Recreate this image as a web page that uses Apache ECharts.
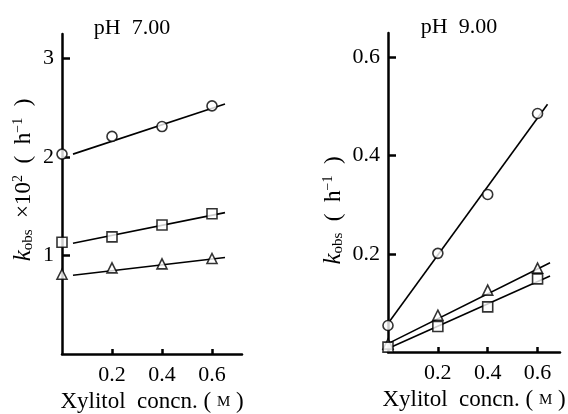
<!DOCTYPE html>
<html><head><meta charset="utf-8">
<script src="https://cdn.jsdelivr.net/npm/echarts@6/dist/echarts.min.js"></script>
<style>html,body{margin:0;padding:0;background:#fff}#c{width:568px;height:414px}</style>
</head><body><div id="c"></div><script>
// ---- data ----
const titles = ['pH  7.00', 'pH  9.00'];
const xTickValues = [0.2, 0.4, 0.6];
const yTicks7 = [1, 2, 3];
const yTicks9 = [0.2, 0.4, 0.6];
const xConc = [0, 0.2, 0.4, 0.6];
// pH 7.00 (k_obs x 10^2, h^-1)
const ph7Circle = [2.03, 2.21, 2.31, 2.52];
const ph7Square = [1.135, 1.19, 1.31, 1.425];
const ph7Triangle = [0.81, 0.875, 0.915, 0.97];
// fitted lines: [x, y] end points
const ph7CircleFitX = [0.044, 0.652], ph7CircleFitY = [2.03, 2.54];
const ph7SquareFitX = [0.044, 0.652], ph7SquareFitY = [1.125, 1.436];
const ph7TriangleFitX = [0.044, 0.652], ph7TriangleFitY = [0.80, 0.98];
// pH 9.00 (k_obs, h^-1)
const ph9Circle = [0.054, 0.201, 0.321, 0.486];
const ph9Triangle = [0.016, 0.075, 0.126, 0.171];
const ph9Square = [0.010, 0.052, 0.092, 0.149];
const ph9CircleFitX = [0.0, 0.64], ph9CircleFitY = [0.058, 0.505];
const ph9TriangleFitX = [0.0, 0.65], ph9TriangleFitY = [0.017, 0.182];
const ph9SquareFitX = [0.0, 0.65], ph9SquareFitY = [0.007, 0.155];

const FONT = '"Liberation Serif", "DejaVu Serif", serif';
function pairs(xs, ys) { return xs.map((x, i) => [x, ys[i]]); }

const chart = echarts.init(document.getElementById('c'), null, {renderer: 'canvas'});
const axisLine = {show: true, onZero: false, lineStyle: {color: '#000', width: 2.5}};
function xAxis(gridIndex, max) {
  return {
    type: 'value', gridIndex, min: 0, max,
    splitLine: {show: false},
    axisLine,
    axisTick: {show: true, inside: true, length: 5, lineStyle: {color: '#000', width: 2.5}, customValues: xTickValues},
    axisLabel: {color: '#000', fontFamily: FONT, fontSize: 22, margin: 10, customValues: xTickValues,
      formatter: v => v.toFixed(1)},
    name: 'Xylitol  concn. ( {sc|M} )',
    nameLocation: 'middle', nameGap: 36,
    nameTextStyle: {color: '#000', fontFamily: FONT, fontSize: 23,
      rich: {sc: {fontFamily: FONT, fontSize: 15, color: '#000'}}}
  };
}
const yRich = {
  k: {fontFamily: FONT, fontStyle: 'italic', fontSize: 25, color: '#000'},
  sub: {fontFamily: FONT, fontSize: 15, color: '#000', padding: [9, 0, 0, 0]},
  sup: {fontFamily: FONT, fontSize: 14, color: '#000', padding: [0, 0, 10, 0]}
};
function yAxis(gridIndex, max, ticks, name, gap, pad, fmt) {
  return {
    type: 'value', gridIndex, min: 0, max,
    splitLine: {show: false},
    axisLine,
    axisTick: {show: true, inside: true, length: 8, lineStyle: {color: '#000', width: 2.5}, customValues: ticks},
    axisLabel: {color: '#000', fontFamily: FONT, fontSize: 22, margin: 8, customValues: ticks, formatter: fmt},
    name, nameLocation: 'middle', nameRotate: 90, nameGap: gap,
    nameTextStyle: {color: '#000', fontFamily: FONT, fontSize: 23, padding: pad, rich: yRich}
  };
}
const mk = {color: '#fff', borderColor: '#000', borderWidth: 1.6};
function sc(xi, yi, data, symbol, size) {
  return {type: 'scatter', xAxisIndex: xi, yAxisIndex: yi, data: pairs(xConc, data),
    symbol, symbolSize: size, itemStyle: mk, z: 5, silent: true};
}
function fit(xi, yi, xs, ys) {
  return {type: 'line', xAxisIndex: xi, yAxisIndex: yi, data: pairs(xs, ys), showSymbol: false,
    lineStyle: {color: '#000', width: 1.6}, z: 3, silent: true};
}

chart.setOption({
  animation: false,
  backgroundColor: '#fff',
  title: [
    {text: titles[0], left: 127, top: 12, textAlign: 'center',
      textStyle: {fontFamily: FONT, fontSize: 22, fontWeight: 'normal', color: '#000'}},
    {text: titles[1], left: 454, top: 11, textAlign: 'center',
      textStyle: {fontFamily: FONT, fontSize: 22, fontWeight: 'normal', color: '#000'}}
  ],
  grid: [
    {left: 62, top: 34, width: 180, bottom: 60, outerBoundsMode: 'none', containLabel: false},
    {left: 388, top: 33, width: 172, bottom: 62, outerBoundsMode: 'none', containLabel: false}
  ],
  xAxis: [xAxis(0, 0.72), xAxis(1, 0.69)],
  yAxis: [
    yAxis(0, 3.25, yTicks7, '{k|k}{sub|obs}  ×10{sup|2}  (  h{sup|−1}  )', 26, [0, 0, 0, 28], v => String(v)),
    yAxis(1, 0.65, yTicks9, '{k|k}{sub|obs}  (  h{sup|−1}  )', 42, [0, 36, 0, 0], v => v.toFixed(1))
  ],
  series: [
    fit(0, 0, ph7CircleFitX, ph7CircleFitY),
    fit(0, 0, ph7SquareFitX, ph7SquareFitY),
    fit(0, 0, ph7TriangleFitX, ph7TriangleFitY),
    sc(0, 0, ph7Circle, 'circle', 10),
    sc(0, 0, ph7Square, 'rect', 10),
    sc(0, 0, ph7Triangle, 'triangle', 10),
    fit(1, 1, ph9CircleFitX, ph9CircleFitY),
    fit(1, 1, ph9TriangleFitX, ph9TriangleFitY),
    fit(1, 1, ph9SquareFitX, ph9SquareFitY),
    sc(1, 1, ph9Circle, 'circle', 10),
    sc(1, 1, ph9Triangle, 'triangle', 10),
    sc(1, 1, ph9Square, 'rect', 10)
  ]
});
</script></body></html>
